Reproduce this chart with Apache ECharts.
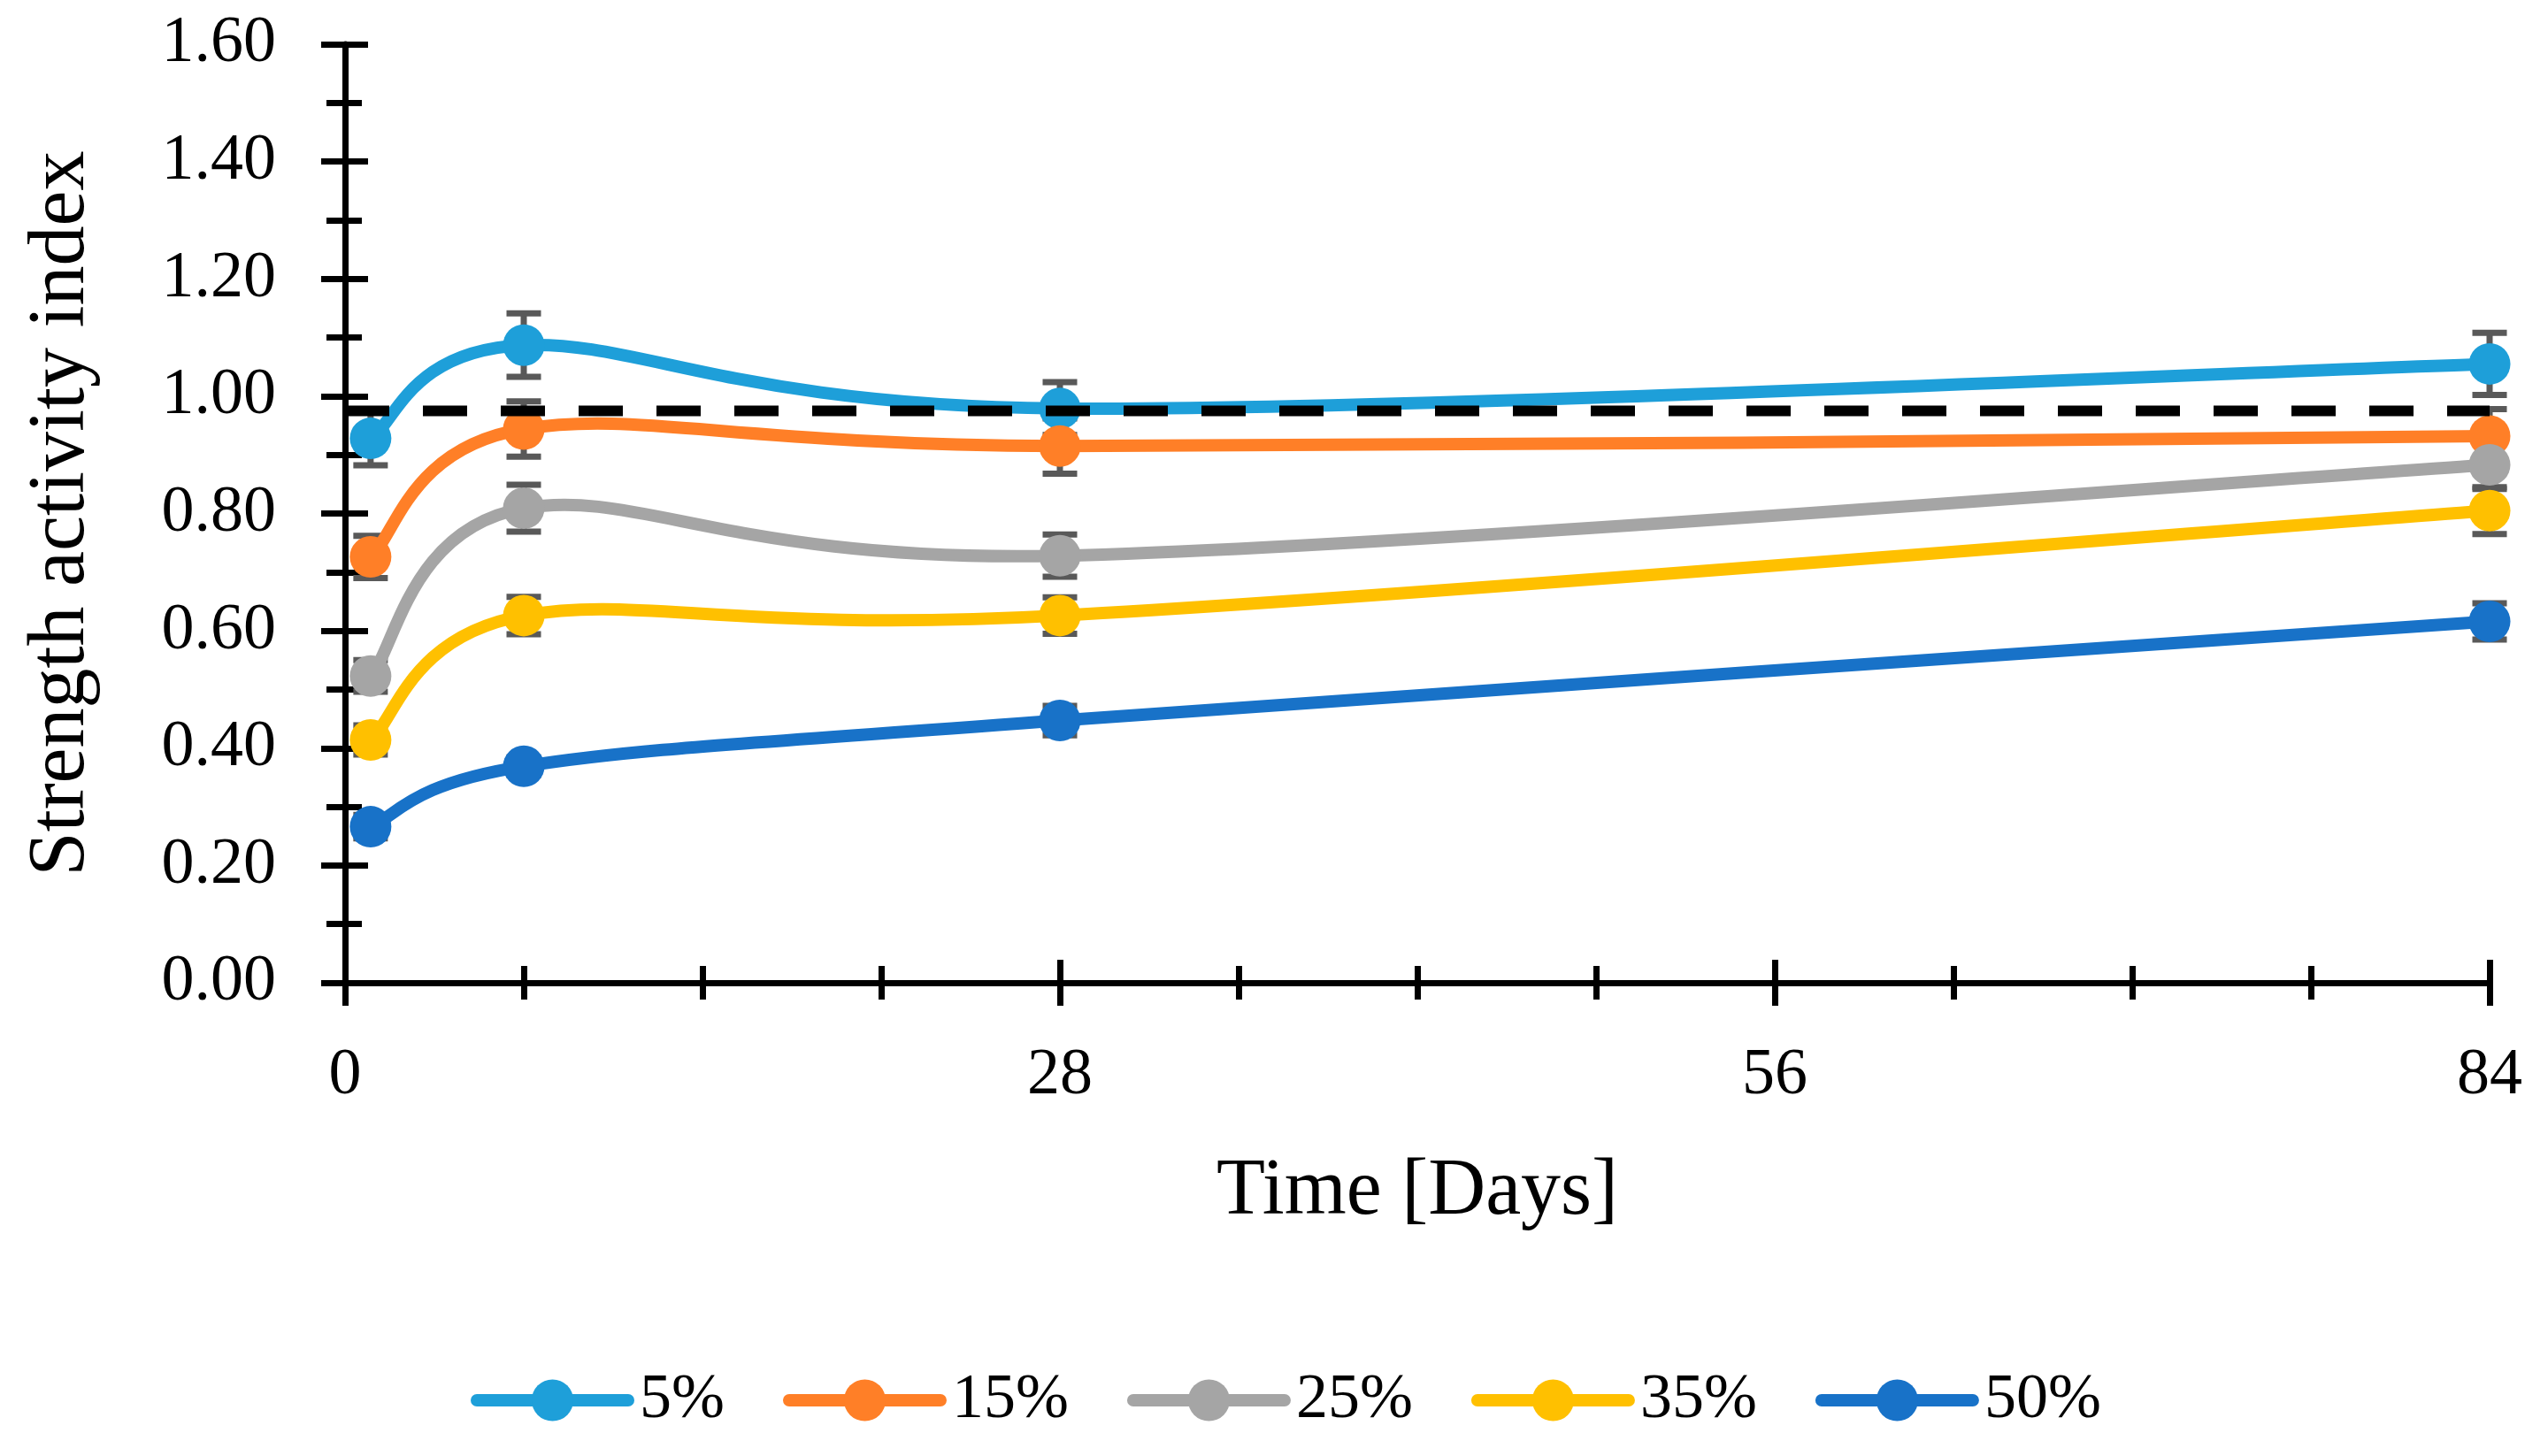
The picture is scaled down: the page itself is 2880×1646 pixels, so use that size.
<!DOCTYPE html>
<html>
<head>
<meta charset="utf-8">
<script src="https://cdn.jsdelivr.net/npm/echarts@6/dist/echarts.min.js"></script>
<style>
html,body{margin:0;padding:0;background:#fff;}
#chart{width:2880px;height:1646px;}
</style>
</head>
<body>
<div id="chart"></div>
<script>
// ---- data ----
const days = [1, 7, 28, 84];
const seriesNames = ['5%', '15%', '25%', '35%', '50%'];
const sai5  = [0.928, 1.087, 0.979, 1.055];
const sai15 = [0.726, 0.944, 0.915, 0.932];
const sai25 = [0.523, 0.809, 0.728, 0.883];
const sai35 = [0.414, 0.626, 0.626, 0.805];
const sai50 = [0.266, 0.369, 0.447, 0.616];
const err5  = [0.046, 0.054, 0.045, 0.053];
const err15 = [0.036, 0.047, 0.047, 0.046];
const err25 = [0.027, 0.040, 0.036, 0.041];
const err35 = [0.025, 0.032, 0.031, 0.040];
const err50 = [0.020, 0.015, 0.025, 0.031];
const referenceLevel = 0.975;
const xTicks = [0, 28, 56, 84];
const yTicks = [0, 0.2, 0.4, 0.6, 0.8, 1.0, 1.2, 1.4, 1.6];

const colors = ['#1E9FD9', '#FF7F27', '#A5A5A5', '#FFC000', '#1872C8'];
const allVals = [sai5, sai15, sai25, sai35, sai50];
const allErrs = [err5, err15, err25, err35, err50];

const FONT = 'Liberation Serif';
const chart = echarts.init(document.getElementById('chart'));

const axisCommonX = {
  type: 'value', min: xTicks[0], max: xTicks[xTicks.length - 1], interval: 28,
  splitLine: { show: false }, position: 'bottom'
};
const axisCommonY = {
  type: 'value', min: yTicks[0], max: yTicks[yTicks.length - 1], interval: 0.2,
  splitLine: { show: false }, position: 'left'
};

const series = [];
// error bars
allVals.forEach((vals, si) => {
  series.push({
    type: 'custom',
    name: seriesNames[si] + ' err',
    xAxisIndex: 0, yAxisIndex: 0,
    z: 1,
    silent: true,
    data: vals.map((v, i) => [days[i], v - allErrs[si][i], v + allErrs[si][i]]),
    renderItem: function (params, api) {
      const x = api.value(0);
      const pLo = api.coord([x, api.value(1)]);
      const pHi = api.coord([x, api.value(2)]);
      const hw = 19.5;
      const st = { stroke: '#595959', lineWidth: 7 };
      return {
        type: 'group',
        children: [
          { type: 'line', shape: { x1: pLo[0], y1: pLo[1], x2: pHi[0], y2: pHi[1] }, style: st },
          { type: 'line', shape: { x1: pLo[0] - hw, y1: pLo[1], x2: pLo[0] + hw, y2: pLo[1] }, style: st },
          { type: 'line', shape: { x1: pHi[0] - hw, y1: pHi[1], x2: pHi[0] + hw, y2: pHi[1] }, style: st }
        ]
      };
    }
  });
});
// smoothed curves (spreadsheet-style Catmull-Rom bezier through the data points)
allVals.forEach((vals, si) => {
  series.push({
    type: 'custom',
    name: seriesNames[si] + ' curve',
    xAxisIndex: 0, yAxisIndex: 0,
    z: 2,
    silent: true,
    data: vals.map((v, i) => [days[i], v]),
    renderItem: function (params, api) {
      const i = params.dataIndex;
      const n = vals.length;
      if (i >= n - 1) return null;
      const pts = vals.map((v, j) => api.coord([days[j], v]));
      const P0 = pts[Math.max(i - 1, 0)], P1 = pts[i], P2 = pts[i + 1], P3 = pts[Math.min(i + 2, n - 1)];
      return {
        type: 'bezierCurve',
        shape: {
          x1: P1[0], y1: P1[1], x2: P2[0], y2: P2[1],
          cpx1: P1[0] + (P2[0] - P0[0]) / 6, cpy1: P1[1] + (P2[1] - P0[1]) / 6,
          cpx2: P2[0] - (P3[0] - P1[0]) / 6, cpy2: P2[1] - (P3[1] - P1[1]) / 6
        },
        style: { stroke: colors[si], lineWidth: 14, fill: null, lineCap: 'round' }
      };
    }
  });
});
// markers (+ legend entries)
allVals.forEach((vals, si) => {
  series.push({
    type: 'line',
    name: seriesNames[si],
    xAxisIndex: 0, yAxisIndex: 0,
    z: 3,
    symbol: 'circle',
    symbolSize: 47,
    data: vals.map((v, i) => [days[i], v]),
    lineStyle: { width: 14, color: colors[si], opacity: 0 },
    itemStyle: { color: colors[si] }
  });
});
// reference dashed line
series.push({
  type: 'line',
  name: 'reference',
  xAxisIndex: 0, yAxisIndex: 0,
  z: 10,
  symbol: 'none',
  silent: true,
  data: [[xTicks[0], referenceLevel], [xTicks[xTicks.length - 1], referenceLevel]],
  lineStyle: { width: 12, color: '#000', type: [50, 38] }
});

chart.setOption({
  animation: false,
  backgroundColor: '#fff',
  grid: { left: 390, right: 66, top: 50, bottom: 535, containLabel: false },
  legend: {
    data: seriesNames,
    left: 527, top: 1542,
    itemWidth: 171, itemHeight: 59, itemGap: 66,
    textStyle: { fontFamily: FONT, fontSize: 72, color: '#000', padding: [0, 0, 0, 8] },
    lineStyle: { width: 14, opacity: 1, cap: 'round' }
  },
  xAxis: [
    Object.assign({}, axisCommonX, {
      name: 'Time [Days]', nameLocation: 'middle', nameGap: 192,
      nameTextStyle: { fontFamily: FONT, fontSize: 90, color: '#000' },
      axisLine: { show: true, lineStyle: { color: '#000', width: 7 } },
      axisTick: { show: true, inside: false, length: 26, lineStyle: { color: '#000', width: 7 } },
      minorTick: { show: true, splitNumber: 4, length: 19, lineStyle: { color: '#000', width: 7 } },
      axisLabel: { fontFamily: FONT, fontSize: 74, color: '#000', margin: 69 }
    }),
    Object.assign({}, axisCommonX, {
      axisLine: { show: false },
      axisTick: { show: true, inside: true, length: 26, lineStyle: { color: '#000', width: 7 } },
      minorTick: { show: true, splitNumber: 4, length: 19, lineStyle: { color: '#000', width: 7 } },
      axisLabel: { show: false }
    })
  ],
  yAxis: [
    Object.assign({}, axisCommonY, {
      name: 'Strength activity index', nameLocation: 'middle', nameGap: 275, nameRotate: 90,
      nameTextStyle: { fontFamily: FONT, fontSize: 90, color: '#000' },
      axisLine: { show: true, lineStyle: { color: '#000', width: 7 } },
      axisTick: { show: true, inside: false, length: 27, lineStyle: { color: '#000', width: 7 } },
      minorTick: { show: true, splitNumber: 2, length: 21, lineStyle: { color: '#000', width: 7 } },
      axisLabel: { fontFamily: FONT, fontSize: 74, color: '#000', margin: 78,
        formatter: v => v.toFixed(2) }
    }),
    Object.assign({}, axisCommonY, {
      axisLine: { show: false },
      axisTick: { show: true, inside: true, length: 26, lineStyle: { color: '#000', width: 7 } },
      minorTick: { show: true, splitNumber: 2, length: 19, lineStyle: { color: '#000', width: 7 } },
      axisLabel: { show: false }
    })
  ],
  series: series
});
</script>
</body>
</html>
